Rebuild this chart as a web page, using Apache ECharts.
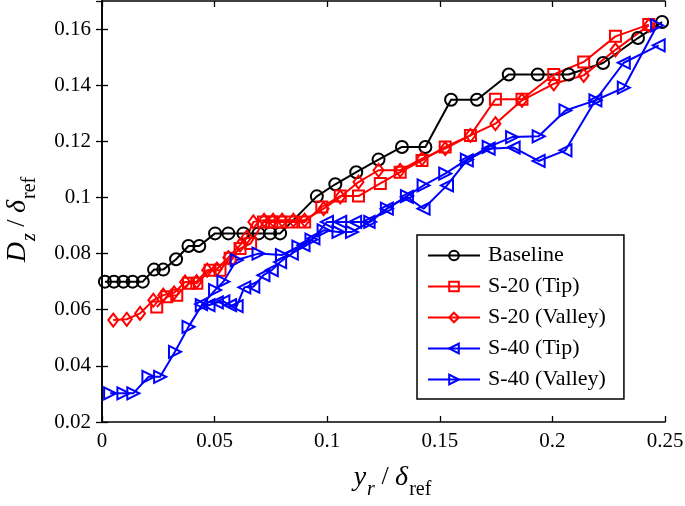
<!DOCTYPE html>
<html>
<head>
<meta charset="utf-8">
<script src="https://cdn.jsdelivr.net/npm/echarts@6/dist/echarts.min.js"></script>
<style>html,body{margin:0;padding:0;background:#fff}#c{width:685px;height:506px}</style>
</head>
<body>
<div id="c"></div>
<script>
var seriesNames = ['Baseline', 'S-20 (Tip)', 'S-20 (Valley)', 'S-40 (Tip)', 'S-40 (Valley)'];
var xTicks = [0, 0.05, 0.1, 0.15, 0.2, 0.25];
var yTicks = [0.02, 0.04, 0.06, 0.08, 0.1, 0.12, 0.14, 0.16];

var baseline = [
  [0.0013,0.0700],[0.0053,0.0700],[0.0095,0.0700],[0.0136,0.0700],[0.0181,0.0700],
  [0.0231,0.0743],[0.0272,0.0743],[0.0329,0.0780],[0.0384,0.0827],[0.0432,0.0827],
  [0.0502,0.0872],[0.0561,0.0872],[0.0628,0.0872],[0.0695,0.0872],[0.0747,0.0872],
  [0.0791,0.0872],[0.0954,0.1004],[0.1036,0.1047],[0.1129,0.1090],[0.1228,0.1135],
  [0.1332,0.1180],[0.1436,0.1180],[0.1550,0.1348],[0.1665,0.1348],[0.1806,0.1438],
  [0.1935,0.1438],[0.2072,0.1438],[0.2225,0.1479],[0.2380,0.1568],[0.2487,0.1625]
];
var s20Tip = [
  [0.0243,0.0610],[0.0288,0.0646],[0.0332,0.0652],[0.0384,0.0694],[0.0421,0.0694],
  [0.0480,0.0741],[0.0524,0.0741],[0.0569,0.0783],[0.0613,0.0818],[0.0660,0.0836],
  [0.0717,0.0913],[0.0754,0.0913],[0.0791,0.0913],[0.0843,0.0913],[0.0900,0.0913],
  [0.0976,0.0966],[0.1058,0.1005],[0.1139,0.1005],[0.1236,0.1050],[0.1324,0.1090],
  [0.1421,0.1132],[0.1524,0.1180],[0.1636,0.1221],[0.1747,0.1350],[0.1865,0.1350],
  [0.2006,0.1438],[0.2139,0.1483],[0.2280,0.1574],[0.2428,0.1616]
];
var s20Valley = [
  [0.0050,0.0563],[0.0110,0.0566],[0.0169,0.0587],[0.0228,0.0634],[0.0272,0.0652],
  [0.0320,0.0660],[0.0369,0.0699],[0.0420,0.0700],[0.0467,0.0741],[0.0510,0.0745],
  [0.0561,0.0786],[0.0613,0.0830],[0.0643,0.0859],[0.0672,0.0913],[0.0720,0.0919],
  [0.0760,0.0919],[0.0800,0.0919],[0.0850,0.0919],[0.0900,0.0919],[0.0984,0.0960],
  [0.1058,0.1002],[0.1139,0.1055],[0.1228,0.1097],[0.1324,0.1097],[0.1421,0.1138],
  [0.1524,0.1174],[0.1636,0.1221],[0.1747,0.1263],[0.1865,0.1346],[0.2006,0.1405],
  [0.2139,0.1435],[0.2280,0.1526],[0.2428,0.1613]
];
var s40Tip = [
  [0.0440,0.0620],[0.0473,0.0616],[0.0510,0.0626],[0.0539,0.0630],[0.0569,0.0616],
  [0.0598,0.0613],[0.0632,0.0680],[0.0672,0.0682],[0.0717,0.0723],[0.0754,0.0741],
  [0.0791,0.0770],[0.0843,0.0800],[0.0895,0.0830],[0.0939,0.0854],[0.0999,0.0913],
  [0.1058,0.0913],[0.1124,0.0913],[0.1184,0.0913],[0.1265,0.0960],[0.1354,0.1002],
  [0.1428,0.0960],[0.1532,0.1043],[0.1620,0.1132],[0.1717,0.1174],[0.1828,0.1178],
  [0.1939,0.1130],[0.2058,0.1168],[0.2191,0.1346],[0.2317,0.1480],[0.2472,0.1542]
];
var s40Valley = [
  [0.0036,0.0302],[0.0095,0.0302],[0.0139,0.0302],[0.0206,0.0361],[0.0258,0.0361],
  [0.0324,0.0450],[0.0384,0.0539],[0.0443,0.0616],[0.0502,0.0670],[0.0539,0.0700],
  [0.0598,0.0777],[0.0695,0.0800],[0.0799,0.0795],[0.0872,0.0825],[0.0930,0.0850],
  [0.0984,0.0883],[0.1050,0.0877],[0.1110,0.0877],[0.1191,0.0913],[0.1265,0.0960],
  [0.1354,0.1005],[0.1428,0.1043],[0.1524,0.1085],[0.1620,0.1135],[0.1717,0.1180],
  [0.1821,0.1215],[0.1939,0.1218],[0.2058,0.1310],[0.2191,0.1346],[0.2317,0.1391],
  [0.2465,0.1613]
];

var FONT = 'Liberation Serif';
var chart = echarts.init(document.getElementById('c'), null, {renderer: 'canvas'});

function mk(name, data, color, symbol, rot, size) {
  return {
    name: name, type: 'line', data: data,
    symbol: symbol, symbolSize: size || 12, symbolRotate: rot || 0,
    showAllSymbol: true,
    lineStyle: {color: color, width: 2},
    itemStyle: {color: 'transparent', borderColor: color, borderWidth: 2},
    emphasis: {disabled: true},
    animation: false, z: 3
  };
}

var axisLineStyle = {show: true, lineStyle: {color: '#000', width: 1.6}};
var tickStyle = {show: true, inside: true, length: 6, lineStyle: {color: '#000', width: 1.3}};
var labelStyle = {color: '#000', fontFamily: FONT, fontSize: 21};

var titleRich = {
  i: {fontFamily: FONT, fontStyle: 'italic', fontSize: 28, lineHeight: 28, color: '#000', verticalAlign: 'top'},
  n: {fontFamily: FONT, fontSize: 26, lineHeight: 28, color: '#000', verticalAlign: 'top'},
  si: {fontFamily: FONT, fontStyle: 'italic', fontSize: 20, lineHeight: 20, color: '#000', verticalAlign: 'top', padding: [16, 0, 0, 1]},
  sb: {fontFamily: FONT, fontSize: 20, lineHeight: 20, color: '#000', verticalAlign: 'top', padding: [16, 0, 0, 1]}
};

var option = {
  backgroundColor: '#fff',
  animation: false,
  grid: {left: 102, right: 20, top: 1, bottom: 84, containLabel: false, outerBoundsMode: 'none'},
  legend: {
    orient: 'vertical', left: 417, top: 235,
    backgroundColor: '#fff', borderColor: '#000', borderWidth: 1.5,
    padding: [9, 18, 8, 10], itemWidth: 52, itemHeight: 12, itemGap: 8,
    textStyle: {color: '#000', fontFamily: FONT, fontSize: 22, lineHeight: 23, padding: [0, 0, 0, 3]},
    data: seriesNames
  },
  xAxis: [{
    type: 'value', min: 0, max: 0.25, interval: 0.05,
    axisLine: axisLineStyle, axisTick: tickStyle,
    axisLabel: Object.assign({margin: 9, formatter: function (v) { return String(+v.toFixed(3)); }}, labelStyle),
    splitLine: {show: false},
    name: '{i|y}{si|r}{n| / }{i|δ}{sb|ref}',
    nameLocation: 'middle', nameGap: 42,
    nameTextStyle: {color: '#000', fontFamily: FONT, rich: titleRich, padding: [0, 0, 0, 18]}
  }, {
    type: 'value', position: 'top', min: 0, max: 0.25, interval: 0.05,
    axisLine: axisLineStyle, axisTick: tickStyle,
    axisLabel: {show: false}, splitLine: {show: false}
  }],
  yAxis: [{
    type: 'value', min: 0.02, max: 0.17, interval: 0.02,
    axisLine: axisLineStyle, axisTick: tickStyle,
    axisLabel: Object.assign({margin: 11, showMaxLabel: false, formatter: function (v) {
      var r = Math.round(v * 100) / 100; if (Math.abs(r - 0.17) < 1e-9) return ''; return String(r);
    }}, labelStyle),
    splitLine: {show: false},
    name: '{i|D}{si|z}{n| / }{i|δ}{sb|ref}',
    nameLocation: 'middle', nameGap: 70, nameRotate: 90,
    nameTextStyle: {color: '#000', fontFamily: FONT, rich: titleRich, padding: [0, 16, 0, 0]}
  }, {
    type: 'value', position: 'right', min: 0.02, max: 0.17, interval: 0.02,
    axisLine: axisLineStyle, axisTick: tickStyle,
    axisLabel: {show: false}, splitLine: {show: false}
  }],
  series: [
    mk(seriesNames[0], baseline, '#000000', 'circle', 0, 12),
    mk(seriesNames[1], s20Tip, '#ff0000', 'rect', 0, 11),
    mk(seriesNames[2], s20Valley, '#ff0000', 'diamond', 0, [10, 13]),
    mk(seriesNames[3], s40Tip, '#0000ff', 'triangle', 90, 12),
    mk(seriesNames[4], s40Valley, '#0000ff', 'triangle', -90, 12)
  ]
};
chart.setOption(option);
</script>
</body>
</html>
